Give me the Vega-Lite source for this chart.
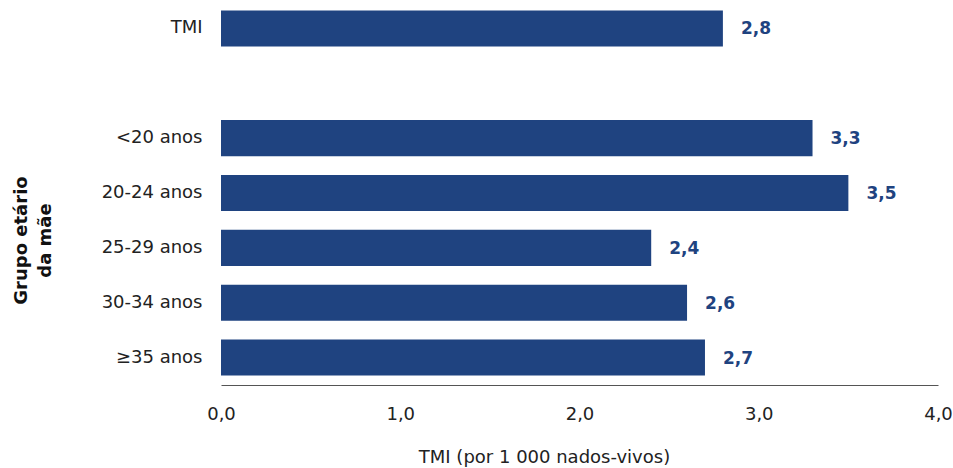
{
  "$schema": "https://vega.github.io/schema/vega-lite/v6.json",
  "autosize": {"type": "none"},
  "width": 717,
  "height": 384,
  "padding": {"left": 221, "top": 1, "right": 15, "bottom": 83},
  "background": "white",
  "config": {
    "view": {"stroke": null},
    "font": "DejaVu Sans",
    "axis": {"grid": false, "ticks": false, "labelFont": "DejaVu Sans", "titleFont": "DejaVu Sans"}
  },
  "data": {
    "values": [
      {"grupo": "TMI", "tmi": 2.8, "rotulo": "2,8"},
      {"grupo": "<20 anos ", "tmi": 3.3, "rotulo": "3,3"},
      {"grupo": "20-24 anos", "tmi": 3.5, "rotulo": "3,5"},
      {"grupo": "25-29 anos", "tmi": 2.4, "rotulo": "2,4"},
      {"grupo": "30-34 anos", "tmi": 2.6, "rotulo": "2,6"},
      {"grupo": "≥35 anos", "tmi": 2.7, "rotulo": "2,7"}
    ]
  },
  "encoding": {
    "y": {
      "field": "grupo",
      "type": "nominal",
      "scale": {
        "domain": ["TMI", " ", "<20 anos ", "20-24 anos", "25-29 anos", "30-34 anos", "≥35 anos"],
        "paddingInner": 0.342,
        "paddingOuter": 0.171
      },
      "axis": {
        "title": ["Grupo etário", "da mãe"],
        "titleFontSize": 18,
        "titleFontWeight": "bold",
        "titleColor": "#111111",
        "titleAngle": -90,
        "titleAlign": "center",
        "titleBaseline": "middle",
        "titleX": -200,
        "titleY": 239,
        "titleLineHeight": 24,
        "domain": false,
        "labelFontSize": 18,
        "labelColor": "#222222",
        "labelPadding": 19
      }
    },
    "x": {
      "field": "tmi",
      "type": "quantitative",
      "scale": {"domain": [0, 4]},
      "axis": {
        "values": [0, 1, 2, 3, 4],
        "labelExpr": "replace(format(datum.value, '.1f'), '.', ',')",
        "title": "TMI (por 1 000 nados-vivos)",
        "titleFontSize": 18,
        "titleFontWeight": "normal",
        "titleColor": "#222222",
        "titleX": 323,
        "titleY": 72,
        "titleBaseline": "middle",
        "domainColor": "#555555",
        "domainWidth": 1,
        "labelFontSize": 18,
        "labelColor": "#222222",
        "labelPadding": 20,
        "labelFlush": false
      }
    }
  },
  "layer": [
    {"mark": {"type": "bar", "color": "#1f4380"}},
    {
      "mark": {"type": "text", "align": "left", "baseline": "middle", "dx": 18, "dy": 1, "fontSize": 17, "fontWeight": "bold", "color": "#1f4380"},
      "encoding": {"text": {"field": "rotulo"}}
    }
  ]
}
